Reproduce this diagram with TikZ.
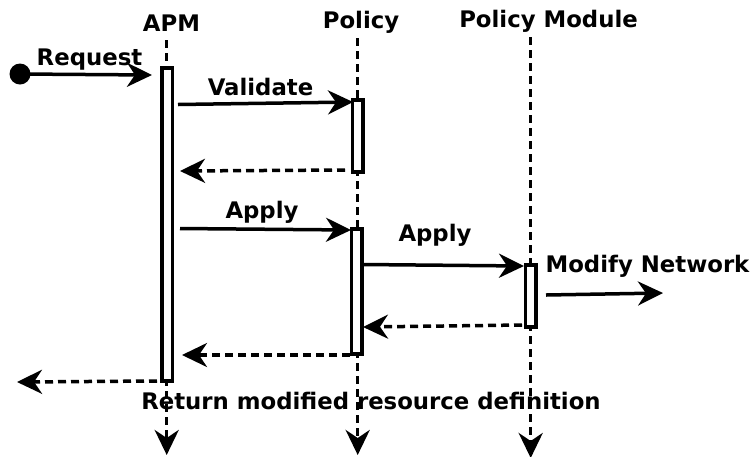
\documentclass[tikz,border=0pt]{standalone}
\usepackage{fontspec}
\setmainfont{DejaVu Sans}
\usetikzlibrary{arrows.meta,positioning}

\begin{document}
\begin{tikzpicture}[x=1pt,y=-1pt,line width=3.5pt,
	>={Stealth[length=25pt,width=24pt,inset=8pt]},
	lbl/.style={font=\bfseries\fontsize{22.8}{26}\selectfont,inner sep=0pt,anchor=base},
	act/.style={draw,fill=white,minimum width=10.5pt,inner sep=0pt},
	ret/.style={->,dash pattern=on 8pt off 5pt}]

\useasboundingbox (0,0) rectangle (751,456);

\node[lbl] (apm) at (171.5,31.5) {APM};
\node[lbl] (pol) at (361,28.5) {Policy};
\node[lbl] (mod) at (548.5,27.5) {Policy Module};

\coordinate (apm-top) at (166.7,40);
\coordinate (apm-bot) at (166.7,455);
\coordinate (pol-top) at (357.7,38);
\coordinate (pol-bot) at (357.7,455);
\coordinate (mod-top) at (530.7,37);
\coordinate (mod-bot) at (530.7,458);

\foreach \l in {apm,pol,mod}{
	\draw[ret] (\l-top)--(\l-bot);
}

\node[act,minimum height=313pt] (apmact) at (167,224.5) {};
\node[act,minimum height=72pt] (polact1) at (357.5,136) {};
\node[act,minimum height=125pt] (polact2) at (356.5,291.5) {};
\node[act,minimum height=62pt] (modact) at (530.5,296) {};

\fill (20,74) circle (10.5pt) coordinate (start);

\coordinate (req-e) at (152,75);
\coordinate (val-s) at (178,104.5);
\coordinate (val-e) at (353,102);
\coordinate (ok-s) at (345,170);
\coordinate (ok-e) at (180,171);
\coordinate (app-s) at (180,228.5);
\coordinate (app-e) at (351,230);
\coordinate (app2-s) at (363,264.5);
\coordinate (app2-e) at (524,266);
\coordinate (net-s) at (546,295);
\coordinate (net-e) at (663,293);
\coordinate (back-s) at (522,325);
\coordinate (back-e) at (363,327);
\coordinate (back2-s) at (350,355);
\coordinate (back2-e) at (182,355);
\coordinate (resp-s) at (157,381);
\coordinate (resp-e) at (17,382);

\draw[->] (start)--(req-e);
\draw[->] (val-s)--(val-e);
\draw[ret] (ok-s)--(ok-e);
\draw[->] (app-s)--(app-e);
\draw[->] (app2-s)--(app2-e);
\draw[->] (net-s)--(net-e);
\draw[ret] (back-s)--(back-e);
\draw[ret] (back2-s)--(back2-e);
\draw[ret] (resp-s)--(resp-e);

\node[lbl] (reqlbl) at (89.5,65) {Request};
\node[lbl] (vallbl) at (260.5,95) {Validate};
\node[lbl] (applbl) at (262,218) {Apply};
\node[lbl] (app2lbl) at (435,241) {Apply};
\node[lbl] (netlbl) at (647.5,272.5) {Modify Network};
\node[lbl] (retlbl) at (371,409) {Return modified resource definition};

\end{tikzpicture}
\end{document}
